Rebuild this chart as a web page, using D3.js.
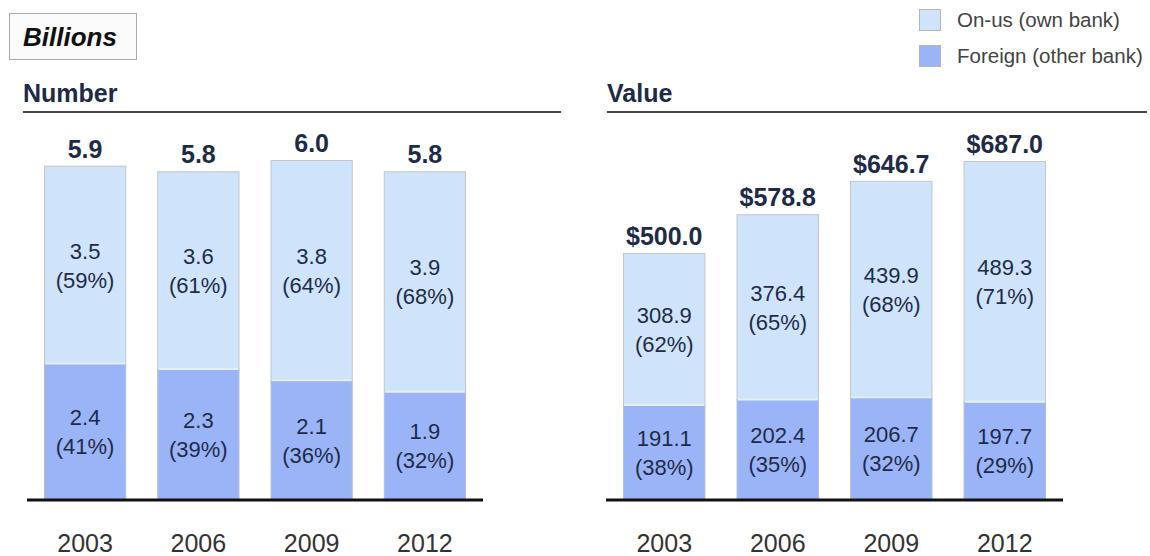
<!DOCTYPE html>
<html>
<head>
<meta charset="utf-8">
<script src="https://cdn.jsdelivr.net/npm/d3@7"></script>
<style>
  body { margin: 0; background: #fff; }
  svg { display: block; font-family: "Liberation Sans", Arial, sans-serif; }
</style>
</head>
<body>
<div id="chart"></div>
<script>
const years = ['2003', '2006', '2009', '2012'];

const numberTotal = [5.9, 5.8, 6.0, 5.8];
const numberOnUs = [3.5, 3.6, 3.8, 3.9];
const numberForeign = [2.4, 2.3, 2.1, 1.9];
const numberOnUsPct = [59, 61, 64, 68];
const numberForeignPct = [41, 39, 36, 32];

const valueTotal = [500.0, 578.8, 646.7, 687.0];
const valueOnUs = [308.9, 376.4, 439.9, 489.3];
const valueForeign = [191.1, 202.4, 206.7, 197.7];
const valueOnUsPct = [62, 65, 68, 71];
const valueForeignPct = [38, 35, 32, 29];

const legendItems = ['On-us (own bank)', 'Foreign (other bank)'];

const width = 1150;
const height = 556;
const onUsColor = '#cfe4fb';
const foreignColor = '#9bb4f7';
const navy = '#1e2b48';

const svg = d3.select('#chart')
    .append('svg')
    .attr('width', width)
    .attr('height', height);

// "Billions" box
svg.append('rect')
    .attr('x', 9.5).attr('y', 13.5)
    .attr('width', 127).attr('height', 46)
    .attr('fill', '#fbfbfb')
    .attr('stroke', '#aaa');
svg.append('text')
    .attr('x', 23).attr('y', 46)
    .attr('font-size', '26px')
    .attr('font-weight', 'bold')
    .attr('font-style', 'italic')
    .attr('fill', '#111')
    .text('Billions');

// legend
const legend = svg.append('g').attr('transform', 'translate(919,0)');
legend.selectAll('rect')
    .data(legendItems)
    .enter()
    .append('rect')
    .attr('x', 0.5)
    .attr('y', (d, i) => 9.5 + i * 36)
    .attr('width', 21).attr('height', 21)
    .attr('fill', (d, i) => i === 0 ? onUsColor : foreignColor)
    .attr('stroke', '#b5b5b5');
legend.selectAll('text')
    .data(legendItems)
    .enter()
    .append('text')
    .attr('x', 38)
    .attr('y', (d, i) => 27 + i * 36)
    .attr('font-size', '20.5px')
    .attr('fill', '#444')
    .text(d => d);

function drawPanel(opts) {
    const g = svg.append('g');

    g.append('text')
        .attr('x', opts.titleX).attr('y', 102)
        .attr('font-size', '25px')
        .attr('font-weight', 'bold')
        .attr('fill', navy)
        .text(opts.title);
    g.append('line')
        .attr('x1', opts.titleX).attr('x2', opts.ruleEnd)
        .attr('y1', 112).attr('y2', 112)
        .attr('stroke', '#444')
        .attr('stroke-width', 2);

    const x = d3.scaleBand()
        .domain(years)
        .range(opts.range)
        .paddingInner(0.274)
        .paddingOuter(0.15);
    const y = d3.scaleLinear()
        .domain([0, opts.max])
        .range([499, 499 - opts.max * opts.pxPerUnit]);

    const rows = years.map((yr, i) => ({
        year: yr,
        total: opts.total[i],
        onUs: opts.onUs[i],
        foreign: opts.foreign[i],
        onUsPct: opts.onUsPct[i],
        foreignPct: opts.foreignPct[i]
    }));

    // on-us segment: from foreign top up to total
    g.selectAll('rect.onus')
        .data(rows)
        .enter()
        .append('rect')
        .attr('class', 'onus')
        .attr('x', d => x(d.year) + 0.5)
        .attr('y', d => y(d.total) + 0.5)
        .attr('width', x.bandwidth() - 1)
        .attr('height', d => y(d.foreign) - y(d.total))
        .attr('fill', onUsColor)
        .attr('stroke', '#c2c6cc');

    g.selectAll('rect.foreign')
        .data(rows)
        .enter()
        .append('rect')
        .attr('class', 'foreign')
        .attr('x', d => x(d.year) + 0.5)
        .attr('y', d => y(d.foreign))
        .attr('width', x.bandwidth() - 1)
        .attr('height', d => y(0) - y(d.foreign))
        .attr('fill', foreignColor)
        .attr('stroke', '#b4bedb');

    g.selectAll('line.sep')
        .data(rows)
        .enter()
        .append('line')
        .attr('class', 'sep')
        .attr('x1', d => x(d.year) + 1)
        .attr('x2', d => x(d.year) + x.bandwidth() - 1)
        .attr('y1', d => y(d.foreign))
        .attr('y2', d => y(d.foreign))
        .attr('stroke', '#e3effc')
        .attr('stroke-width', 2);

    // totals
    g.selectAll('text.total')
        .data(rows)
        .enter()
        .append('text')
        .attr('class', 'total')
        .attr('x', d => x(d.year) + x.bandwidth() / 2)
        .attr('y', d => y(d.total) - 8)
        .attr('text-anchor', 'middle')
        .attr('font-size', '25px')
        .attr('font-weight', 'bold')
        .attr('fill', navy)
        .text(d => opts.prefix + opts.fmt(d.total));

    // segment labels
    const segLabel = (cls, val, pct, top, bottom) => {
        const t = g.selectAll('text.' + cls)
            .data(rows)
            .enter()
            .append('text')
            .attr('class', cls)
            .attr('text-anchor', 'middle')
            .attr('font-size', '22px')
            .attr('fill', navy);
        t.append('tspan')
            .attr('x', d => x(d.year) + x.bandwidth() / 2)
            .attr('y', d => (top(d) + bottom(d)) / 2 - 6)
            .text(d => opts.fmt(val(d)));
        t.append('tspan')
            .attr('x', d => x(d.year) + x.bandwidth() / 2)
            .attr('y', d => (top(d) + bottom(d)) / 2 + 23)
            .text(d => '(' + pct(d) + '%)');
    };
    segLabel('lab-onus', d => d.onUs, d => d.onUsPct, d => y(d.total), d => y(d.foreign));
    segLabel('lab-foreign', d => d.foreign, d => d.foreignPct, d => y(d.foreign), d => y(0));

    // baseline
    g.append('line')
        .attr('x1', opts.range[0]).attr('x2', opts.range[1])
        .attr('y1', 500).attr('y2', 500)
        .attr('stroke', '#111')
        .attr('stroke-width', 3);

    const axis = d3.axisBottom(x).tickSize(0).tickPadding(0);
    const ax = g.append('g')
        .attr('transform', 'translate(0,534)')
        .call(axis);
    ax.select('.domain').remove();
    ax.selectAll('text')
        .attr('font-size', '25px')
        .attr('font-family', '"Liberation Sans", Arial, sans-serif')
        .attr('fill', '#333');
}

drawPanel({
    title: 'Number', titleX: 23, ruleEnd: 561,
    range: [27, 483], max: 6.0, pxPerUnit: 56.5,
    total: numberTotal, onUs: numberOnUs, foreign: numberForeign,
    onUsPct: numberOnUsPct, foreignPct: numberForeignPct,
    prefix: '', fmt: d3.format('.1f')
});

drawPanel({
    title: 'Value', titleX: 607, ruleEnd: 1147,
    range: [606, 1063], max: 700, pxPerUnit: 0.492,
    total: valueTotal, onUs: valueOnUs, foreign: valueForeign,
    onUsPct: valueOnUsPct, foreignPct: valueForeignPct,
    prefix: '$', fmt: d3.format('.1f')
});
</script>
</body>
</html>
